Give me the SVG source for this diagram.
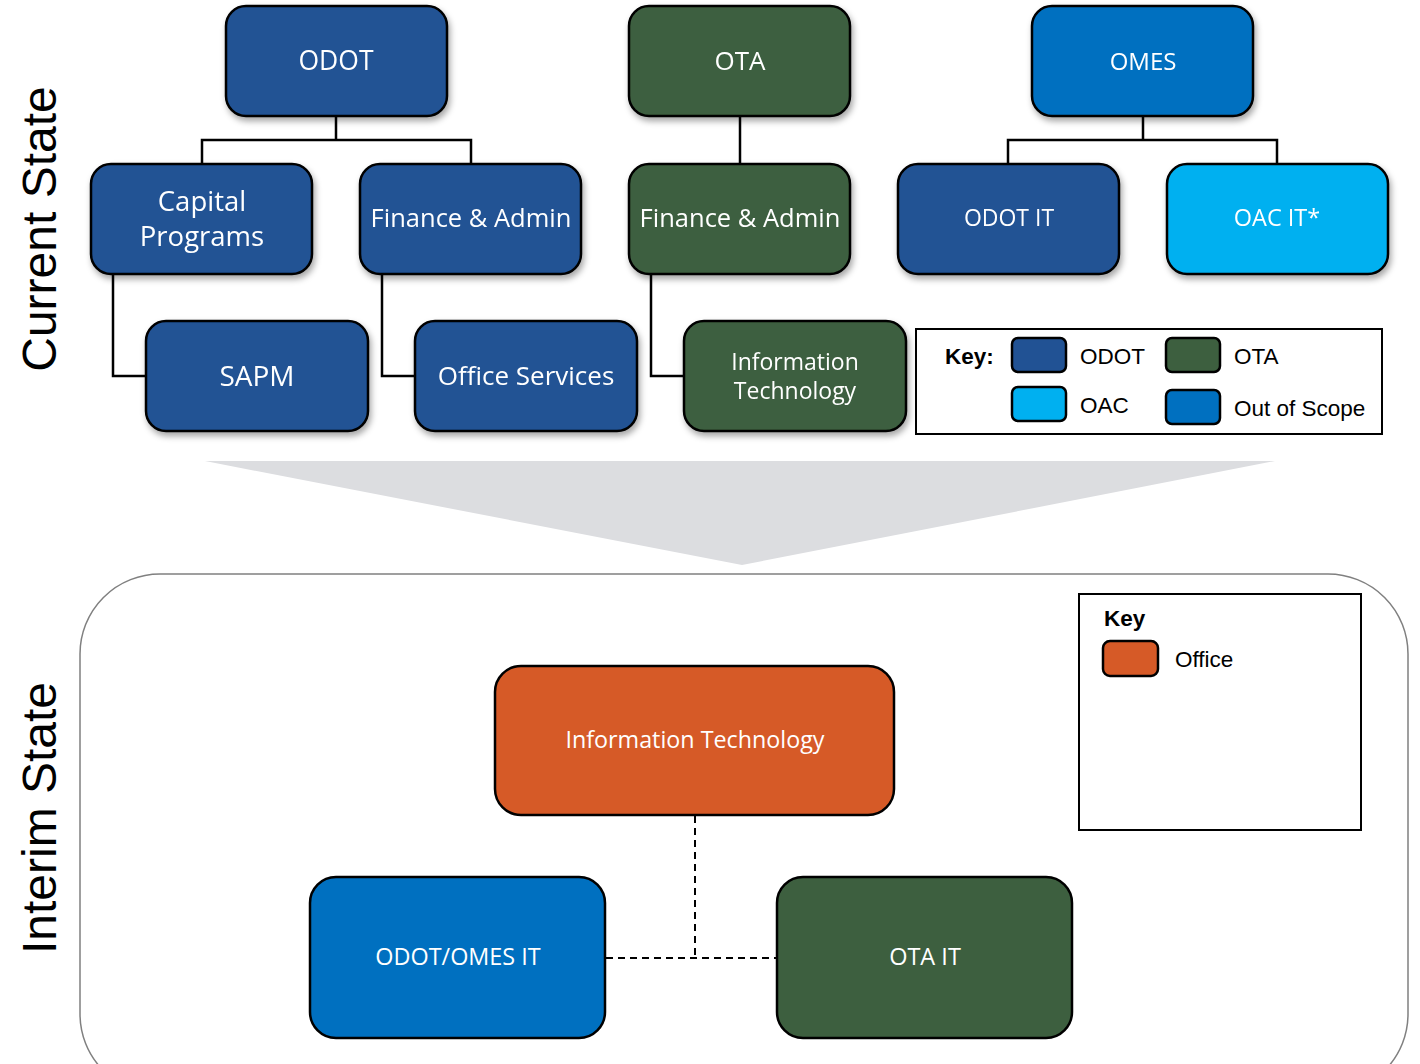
<svg xmlns="http://www.w3.org/2000/svg" width="1420" height="1064" viewBox="0 0 1420 1064">
<style>
.n{stroke:#000;stroke-width:2.5}
.t{font-family:"Open Sans","Noto Sans",sans-serif;fill:#fff;text-anchor:middle;dominant-baseline:central}
.odot{fill:#215294}.ota{fill:#3d5f3f}.omes{fill:#0070c0}.oac{fill:#00b0f0}.off{fill:#d65a27}
.c{fill:none;stroke:#000;stroke-width:2.5}
.d{fill:none;stroke:#000;stroke-width:2;stroke-dasharray:7 5}
.k{font-family:"Liberation Sans",Arial,sans-serif;fill:#000;font-size:22.5px}
.side{font-family:"Liberation Sans",Arial,sans-serif;font-size:48px;fill:#000;text-anchor:middle}
</style>
<defs>
<filter id="sh" x="-10%" y="-10%" width="125%" height="130%">
<feDropShadow dx="2" dy="4" stdDeviation="3" flood-color="#000" flood-opacity="0.35"/>
</filter>
</defs>
<text class="side" transform="translate(56,229) rotate(-90)">Current State</text>
<text class="side" transform="translate(56,818) rotate(-90)">Interim State</text>
<polygon points="205,461 1275,461 742,565" fill="#dcdde0"/>
<rect x="80" y="574" width="1328" height="520" rx="80" fill="none" stroke="#808080" stroke-width="1.5"/>
<g id="connectors">
<path class="c" d="M336,117V140M202,164V140H471V164"/>
<path class="c" d="M740,117V164"/>
<path class="c" d="M1143,117V140M1008,164V140H1277V164"/>
<path class="c" d="M113,274V376H146"/>
<path class="c" d="M382,274V376H415"/>
<path class="c" d="M651,274V376H684"/>
<path class="d" d="M695,816V958"/>
<path class="d" d="M606,958H777"/>
</g>
<g id="n-odot" filter="url(#sh)"><rect class="n odot" x="226" y="6" width="221" height="110" rx="20"/><text class="t" x="336" y="60" font-size="26.5">ODOT</text></g>
<g id="n-ota" filter="url(#sh)"><rect class="n ota" x="629" y="6" width="221" height="110" rx="20"/><text class="t" x="740" y="60" font-size="26">OTA</text></g>
<g id="n-omes" filter="url(#sh)"><rect class="n omes" x="1032" y="6" width="221" height="110" rx="20"/><text class="t" x="1143" y="60" font-size="24">OMES</text></g>
<g id="n-cap" filter="url(#sh)"><rect class="n odot" x="91" y="164" width="221" height="110" rx="20"/><text class="t" x="202" y="200" font-size="27.5">Capital</text><text class="t" x="202" y="235" font-size="27.5">Programs</text></g>
<g id="n-fa1" filter="url(#sh)"><rect class="n odot" x="360" y="164" width="221" height="110" rx="20"/><text class="t" x="471" y="217" font-size="25.5">Finance &amp; Admin</text></g>
<g id="n-fa2" filter="url(#sh)"><rect class="n ota" x="629" y="164" width="221" height="110" rx="20"/><text class="t" x="740" y="217" font-size="25.5">Finance &amp; Admin</text></g>
<g id="n-odotit" filter="url(#sh)"><rect class="n odot" x="898" y="164" width="221" height="110" rx="20"/><text class="t" x="1009" y="217" font-size="23">ODOT IT</text></g>
<g id="n-oacit" filter="url(#sh)"><rect class="n oac" x="1167" y="164" width="221" height="110" rx="20"/><text class="t" x="1277" y="217" font-size="23.5">OAC IT*</text></g>
<g id="n-sapm" filter="url(#sh)"><rect class="n odot" x="146" y="321" width="222" height="110" rx="20"/><text class="t" x="257" y="375" font-size="28">SAPM</text></g>
<g id="n-offsvc" filter="url(#sh)"><rect class="n odot" x="415" y="321" width="222" height="110" rx="20"/><text class="t" x="526" y="375" font-size="26">Office Services</text></g>
<g id="n-infotech" filter="url(#sh)"><rect class="n ota" x="684" y="321" width="222" height="110" rx="20"/><text class="t" x="795" y="361" font-size="23">Information</text><text class="t" x="795" y="390" font-size="23">Technology</text></g>
<g id="key1">
<rect x="916" y="329" width="466" height="105" fill="#fff" stroke="#000" stroke-width="2"/>
<text class="k" x="945" y="364" font-weight="bold" font-size="24">Key:</text>
<rect class="n odot" x="1012" y="338" width="54" height="34" rx="6" stroke-width="2"/>
<text class="k" x="1080" y="364">ODOT</text>
<rect class="n ota" x="1166" y="338" width="54" height="34" rx="6" stroke-width="2"/>
<text class="k" x="1234" y="364">OTA</text>
<rect class="n oac" x="1012" y="387" width="54" height="34" rx="6" stroke-width="2"/>
<text class="k" x="1080" y="413">OAC</text>
<rect class="n omes" x="1166" y="390" width="54" height="34" rx="6" stroke-width="2"/>
<text class="k" x="1234" y="416">Out of Scope</text>
</g>
<g id="key2">
<rect x="1079" y="594" width="282" height="236" fill="#fff" stroke="#000" stroke-width="2"/>
<text class="k" x="1104" y="626" font-weight="bold" font-size="22">Key</text>
<rect class="n off" x="1103" y="641" width="55" height="35" rx="7" stroke-width="2"/>
<text class="k" x="1175" y="667" font-size="23.5">Office</text>
</g>
<g id="n-it"><rect class="n off" x="495" y="666" width="399" height="149" rx="26"/><text class="t" x="695" y="739" font-size="23.3">Information Technology</text></g>
<g id="n-odotomes"><rect class="n omes" x="310" y="877" width="295" height="161" rx="26"/><text class="t" x="458" y="956" font-size="23.4">ODOT/OMES IT</text></g>
<g id="n-otait"><rect class="n ota" x="777" y="877" width="295" height="161" rx="26"/><text class="t" x="925" y="956" font-size="23.5">OTA IT</text></g>
</svg>
